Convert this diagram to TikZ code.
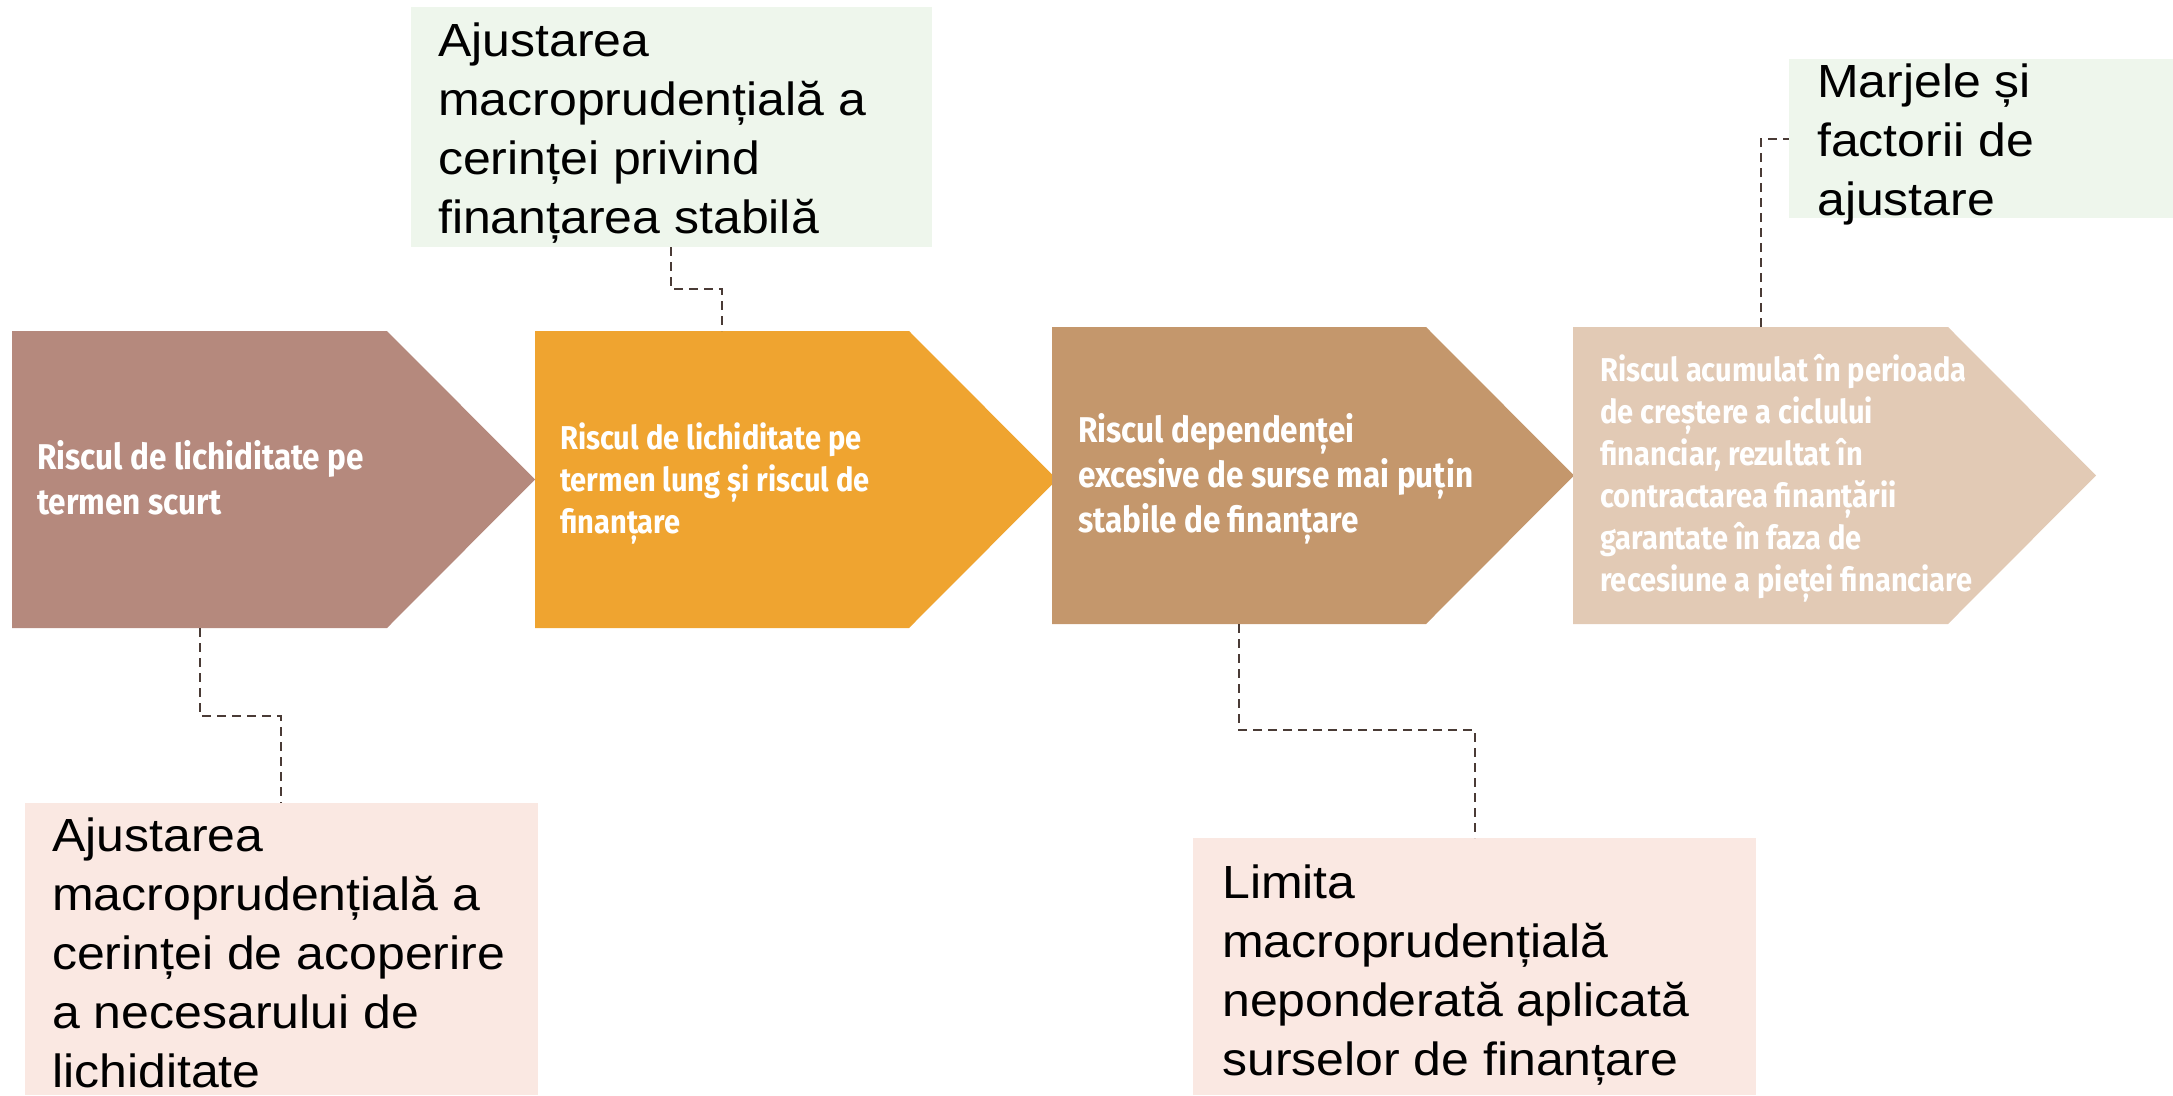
\documentclass[tikz,border=0pt]{standalone}
\usepackage{fontspec}
\setmainfont{Liberation Sans}[FakeStretch=1.075]
\newfontfamily\condfont[FakeStretch=0.88]{Fira Sans}
\definecolor{arA}{HTML}{B5897D}
\definecolor{arB}{HTML}{EFA430}
\definecolor{arC}{HTML}{C4976C}
\definecolor{arD}{HTML}{E2CAB5}
\definecolor{greenbox}{HTML}{EEF6EC}
\definecolor{pinkbox}{HTML}{FAE8E2}
\definecolor{linkcol}{HTML}{4A3B36}
\begin{document}
\begin{tikzpicture}[x=1pt,y=-1pt,
  arrowtxt/.style={anchor=base west, inner sep=0pt, align=left, text=white,
    font=\condfont\bfseries\fontsize{33}{42}\selectfont},
  arrowbig/.style={arrowtxt, font=\condfont\bfseries\fontsize{35.8}{45}\selectfont},
  boxtxt/.style={anchor=base west, inner sep=0pt, align=left, text=black,
    font=\fontsize{46.5}{59}\selectfont},
  callout/.style={anchor=north west, inner sep=0pt, outer sep=0pt},
  link/.style={draw=linkcol, line width=2pt, dash pattern=on 9pt off 6pt},
]
\useasboundingbox (0,0) rectangle (2173,1095);

% chevrons
\fill[arA] (12,331) -- (387,331) -- (535,479.5) -- (387,628) -- (12,628) -- cycle;
\fill[arB] (535,331) -- (909,331) -- (1057,479.5) -- (909,628) -- (535,628) -- cycle;
\fill[arC] (1052,327) -- (1426,327) -- (1574,475.5) -- (1426,624) -- (1052,624) -- cycle;
\fill[arD] (1573,327) -- (1948,327) -- (2096,475.5) -- (1948,624) -- (1573,624) -- cycle;

\coordinate (r1s) at (200,628);
\coordinate (r2n) at (722,331);
\coordinate (r3s) at (1239,624);
\coordinate (r4n) at (1761,327);

% (anchor = baseline of the last line)
\node[arrowbig] (t1) at (37,514) {Riscul de lichiditate pe\\termen scurt};
\node[arrowtxt] (t2) at (560,533) {Riscul de lichiditate pe\\termen lung și riscul de\\finanțare};
\node[arrowbig] (t3) at (1078,532) {Riscul dependenței\\excesive de surse mai puțin\\stabile de finanțare};
\node[arrowtxt] (t4) at (1600,591) {Riscul acumulat în perioada\\de creștere a ciclului\\financiar, rezultat în\\contractarea finanțării\\garantate în faza de\\recesiune a pieței financiare};

% callout boxes
\node[callout, fill=greenbox, minimum width=521, minimum height=240] (g1) at (411,7) {};
\node[callout, fill=greenbox, minimum width=384, minimum height=159] (g2) at (1789,59) {};
\node[callout, fill=pinkbox, minimum width=513, minimum height=292] (p1) at (25,803) {};
\node[callout, fill=pinkbox, minimum width=563, minimum height=257] (p2) at (1193,838) {};

\node[boxtxt] (g1t) at (438,233) {Ajustarea\\macroprudențială a\\cerinței privind\\finanțarea stabilă};
\node[boxtxt] (g2t) at (1817,215) {Marjele și\\factorii de\\ajustare};
\node[boxtxt] (p1t) at (52,1087) {Ajustarea\\macroprudențială a\\cerinței de acoperire\\a necesarului de\\lichiditate};
\node[boxtxt] (p2t) at (1222,1075) {Limita\\macroprudențială\\neponderată aplicată\\surselor de finanțare};

\coordinate (g1c) at (671,247);
\coordinate (g2c) at (1789,139);
\coordinate (p1c) at (281,803);
\coordinate (p2c) at (1475,838);

% connectors
\draw[link] (r1s) |- (p1c |- 0,716) -- (p1c);
\draw[link] (g1c) |- (r2n |- 0,289) -- (r2n);
\draw[link] (r3s) |- (p2c |- 0,730) -- (p2c);
\draw[link] (r4n) |- (g2c);
\end{tikzpicture}
\end{document}
